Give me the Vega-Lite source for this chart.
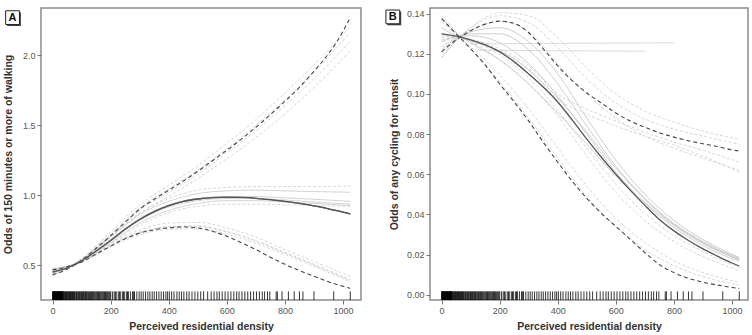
{
  "$schema": "https://vega.github.io/schema/vega-lite/v6.json",
  "padding": {"left": 2, "right": 0, "top": 7, "bottom": 0},
  "spacing": 21,
  "config": {
    "font": "Liberation Sans, Arial, sans-serif",
    "view": {"stroke": "#8c8c8c", "strokeWidth": 1.5},
    "axis": {"grid": false, "domain": false, "tickSize": 4, "tickColor": "#777", "tickWidth": 1, "labelFont": "Liberation Sans", "labelFontSize": 9, "labelColor": "#555", "labelPadding": 2, "titleFont": "Liberation Sans", "titleFontSize": 10.5, "titleFontWeight": "bold", "titleColor": "#333"},
    "axisX": {"titlePadding": 6}
  },
  "datasets": {
    "Amain": [
      {"x": 0, "est": 0.45, "hi": 0.43, "lo": 0.465},
      {"x": 50, "est": 0.48, "hi": 0.47, "lo": 0.488},
      {"x": 100, "est": 0.53, "hi": 0.535, "lo": 0.522},
      {"x": 150, "est": 0.6, "hi": 0.62, "lo": 0.578},
      {"x": 200, "est": 0.675, "hi": 0.71, "lo": 0.635},
      {"x": 250, "est": 0.755, "hi": 0.805, "lo": 0.688},
      {"x": 300, "est": 0.825, "hi": 0.9, "lo": 0.728},
      {"x": 350, "est": 0.882, "hi": 0.97, "lo": 0.752},
      {"x": 400, "est": 0.924, "hi": 1.035, "lo": 0.766},
      {"x": 450, "est": 0.955, "hi": 1.1, "lo": 0.772},
      {"x": 500, "est": 0.972, "hi": 1.17, "lo": 0.765},
      {"x": 550, "est": 0.982, "hi": 1.245, "lo": 0.742},
      {"x": 600, "est": 0.985, "hi": 1.32, "lo": 0.705},
      {"x": 650, "est": 0.983, "hi": 1.4, "lo": 0.66},
      {"x": 700, "est": 0.977, "hi": 1.485, "lo": 0.61},
      {"x": 750, "est": 0.967, "hi": 1.575, "lo": 0.555},
      {"x": 800, "est": 0.955, "hi": 1.67, "lo": 0.505},
      {"x": 850, "est": 0.94, "hi": 1.77, "lo": 0.46},
      {"x": 900, "est": 0.922, "hi": 1.885, "lo": 0.42},
      {"x": 950, "est": 0.902, "hi": 2.01, "lo": 0.38},
      {"x": 1000, "est": 0.878, "hi": 2.17, "lo": 0.348},
      {"x": 1025, "est": 0.866, "hi": 2.27, "lo": 0.333}
    ],
    "Agray": [
      {"x": 0, "e1": 0.44, "e2": 0.47, "e3": 0.45, "e4": 0.46, "h1": 0.43, "h2": 0.44, "h3": 0.42, "h4": 0.44, "l1": 0.47, "l2": 0.475, "l3": 0.46, "l4": 0.47, "d1": 0.44, "d2": 0.465},
      {"x": 100, "e1": 0.535, "e2": 0.525, "e3": 0.53, "e4": 0.53, "h1": 0.545, "h2": 0.54, "h3": 0.545, "h4": 0.54, "l1": 0.525, "l2": 0.52, "l3": 0.52, "l4": 0.525, "d1": 0.535, "d2": 0.525},
      {"x": 200, "e1": 0.7, "e2": 0.66, "e3": 0.685, "e4": 0.675, "h1": 0.74, "h2": 0.7, "h3": 0.725, "h4": 0.715, "l1": 0.655, "l2": 0.63, "l3": 0.645, "l4": 0.64, "d1": 0.705, "d2": 0.655},
      {"x": 300, "e1": 0.86, "e2": 0.8, "e3": 0.835, "e4": 0.82, "h1": 0.93, "h2": 0.87, "h3": 0.91, "h4": 0.895, "l1": 0.75, "l2": 0.715, "l3": 0.735, "l4": 0.73, "d1": 0.87, "d2": 0.785},
      {"x": 400, "e1": 0.955, "e2": 0.89, "e3": 0.93, "e4": 0.915, "h1": 1.07, "h2": 0.99, "h3": 1.045, "h4": 1.02, "l1": 0.8, "l2": 0.755, "l3": 0.775, "l4": 0.77, "d1": 0.975, "d2": 0.875},
      {"x": 500, "e1": 1.01, "e2": 0.94, "e3": 0.975, "e4": 0.96, "h1": 1.21, "h2": 1.12, "h3": 1.18, "h4": 1.15, "l1": 0.805, "l2": 0.76, "l3": 0.78, "l4": 0.775, "d1": 1.035, "d2": 0.92},
      {"x": 600, "e1": 1.03, "e2": 0.96, "e3": 0.99, "e4": 0.975, "h1": 1.37, "h2": 1.26, "h3": 1.33, "h4": 1.3, "l1": 0.765, "l2": 0.72, "l3": 0.74, "l4": 0.735, "d1": 1.055, "d2": 0.935},
      {"x": 700, "e1": 1.035, "e2": 0.96, "e3": 0.99, "e4": 0.975, "h1": 1.54, "h2": 1.41, "h3": 1.5, "h4": 1.46, "l1": 0.7, "l2": 0.655, "l3": 0.675, "l4": 0.67, "d1": 1.06, "d2": 0.935},
      {"x": 800, "e1": 1.03, "e2": 0.95, "e3": 0.98, "e4": 0.965, "h1": 1.73, "h2": 1.58, "h3": 1.68, "h4": 1.64, "l1": 0.61, "l2": 0.575, "l3": 0.59, "l4": 0.585, "d1": 1.06, "d2": 0.93},
      {"x": 900, "e1": 1.025, "e2": 0.94, "e3": 0.97, "e4": 0.95, "h1": 1.93, "h2": 1.77, "h3": 1.88, "h4": 1.83, "l1": 0.525, "l2": 0.49, "l3": 0.505, "l4": 0.5, "d1": 1.06, "d2": 0.925},
      {"x": 1025, "e1": 1.02, "e2": 0.925, "e3": 0.955, "e4": 0.935, "h1": 2.2, "h2": 2.03, "h3": 2.16, "h4": 2.1, "l1": 0.42, "l2": 0.38, "l3": 0.395, "l4": 0.39, "d1": 1.065, "d2": 0.92}
    ],
    "Bmain": [
      {"x": 0, "est": 0.13, "hi": 0.121, "lo": 0.1375},
      {"x": 50, "est": 0.1288, "hi": 0.127, "lo": 0.13},
      {"x": 100, "est": 0.127, "hi": 0.1315, "lo": 0.1225},
      {"x": 150, "est": 0.1245, "hi": 0.1348, "lo": 0.1145},
      {"x": 200, "est": 0.121, "hi": 0.1363, "lo": 0.105},
      {"x": 250, "est": 0.116, "hi": 0.1352, "lo": 0.096},
      {"x": 300, "est": 0.11, "hi": 0.1305, "lo": 0.0865},
      {"x": 350, "est": 0.1035, "hi": 0.1225, "lo": 0.076},
      {"x": 400, "est": 0.096, "hi": 0.114, "lo": 0.066},
      {"x": 450, "est": 0.087, "hi": 0.1065, "lo": 0.0565},
      {"x": 500, "est": 0.0775, "hi": 0.1005, "lo": 0.048},
      {"x": 550, "est": 0.0685, "hi": 0.0955, "lo": 0.0405},
      {"x": 600, "est": 0.06, "hi": 0.0905, "lo": 0.034},
      {"x": 650, "est": 0.052, "hi": 0.0865, "lo": 0.0275},
      {"x": 700, "est": 0.0445, "hi": 0.0834, "lo": 0.021},
      {"x": 750, "est": 0.0375, "hi": 0.0807, "lo": 0.015},
      {"x": 800, "est": 0.0318, "hi": 0.0785, "lo": 0.011},
      {"x": 850, "est": 0.027, "hi": 0.0767, "lo": 0.0082},
      {"x": 900, "est": 0.0228, "hi": 0.0752, "lo": 0.0062},
      {"x": 950, "est": 0.0192, "hi": 0.0738, "lo": 0.0048},
      {"x": 1000, "est": 0.0158, "hi": 0.0722, "lo": 0.0036},
      {"x": 1025, "est": 0.0143, "hi": 0.0716, "lo": 0.0031}
    ],
    "Bgray": [
      {"x": 0, "e1": 0.122, "e2": 0.138, "e3": 0.126, "e4": 0.133, "e5": 0.118, "h1": 0.118, "h2": 0.12, "h3": 0.1235, "l1": 0.139, "l2": 0.136, "m1": 0.13, "m2": 0.129, "r1": 0.128, "r2": 0.127},
      {"x": 50, "e1": 0.1275, "e2": 0.1305, "e3": 0.1285, "e4": 0.129, "e5": 0.1265, "h1": 0.1265, "h2": 0.127, "h3": 0.128, "l1": 0.131, "l2": 0.1295, "m1": 0.1285, "m2": 0.128, "r1": 0.128, "r2": 0.1275},
      {"x": 100, "e1": 0.13, "e2": 0.1255, "e3": 0.129, "e4": 0.1265, "e5": 0.131, "h1": 0.133, "h2": 0.133, "h3": 0.132, "l1": 0.1225, "l2": 0.1235, "m1": 0.126, "m2": 0.1265, "r1": 0.127, "r2": 0.127},
      {"x": 200, "e1": 0.13, "e2": 0.117, "e3": 0.1255, "e4": 0.1215, "e5": 0.133, "h1": 0.1405, "h2": 0.139, "h3": 0.136, "l1": 0.106, "l2": 0.1095, "m1": 0.117, "m2": 0.1195, "r1": 0.1215, "r2": 0.1225},
      {"x": 300, "e1": 0.122, "e2": 0.105, "e3": 0.115, "e4": 0.112, "e5": 0.126, "h1": 0.139, "h2": 0.1355, "h3": 0.131, "l1": 0.088, "l2": 0.0925, "m1": 0.105, "m2": 0.108, "r1": 0.1125, "r2": 0.114},
      {"x": 400, "e1": 0.105, "e2": 0.0905, "e3": 0.099, "e4": 0.098, "e5": 0.11, "h1": 0.128, "h2": 0.123, "h3": 0.115, "l1": 0.068, "l2": 0.073, "m1": 0.089, "m2": 0.092, "r1": 0.0975, "r2": 0.1},
      {"x": 500, "e1": 0.084, "e2": 0.075, "e3": 0.08, "e4": 0.081, "e5": 0.088, "h1": 0.113, "h2": 0.1075, "h3": 0.1, "l1": 0.049, "l2": 0.054, "m1": 0.069, "m2": 0.073, "r1": 0.09, "r2": 0.0925},
      {"x": 600, "e1": 0.064, "e2": 0.059, "e3": 0.061, "e4": 0.063, "e5": 0.067, "h1": 0.1, "h2": 0.0955, "h3": 0.088, "l1": 0.034, "l2": 0.038, "m1": 0.051, "m2": 0.055, "r1": 0.084, "r2": 0.0865},
      {"x": 700, "e1": 0.048, "e2": 0.046, "e3": 0.0455, "e4": 0.0475, "e5": 0.05, "h1": 0.0915, "h2": 0.0875, "h3": 0.079, "l1": 0.0225, "l2": 0.026, "m1": 0.037, "m2": 0.0405, "r1": 0.079, "r2": 0.081},
      {"x": 800, "e1": 0.0355, "e2": 0.0345, "e3": 0.0335, "e4": 0.035, "e5": 0.037, "h1": 0.086, "h2": 0.0825, "h3": 0.073, "l1": 0.0145, "l2": 0.017, "m1": 0.0265, "m2": 0.0295, "r1": 0.0745, "r2": 0.076},
      {"x": 900, "e1": 0.0265, "e2": 0.0255, "e3": 0.0245, "e4": 0.026, "e5": 0.0275, "h1": 0.0815, "h2": 0.079, "h3": 0.068, "l1": 0.009, "l2": 0.011, "m1": 0.019, "m2": 0.0215, "r1": 0.069, "r2": 0.072},
      {"x": 1025, "e1": 0.018, "e2": 0.0175, "e3": 0.0165, "e4": 0.0172, "e5": 0.0185, "h1": 0.0775, "h2": 0.075, "h3": 0.062, "l1": 0.0048, "l2": 0.0062, "m1": 0.012, "m2": 0.0135, "r1": 0.061, "r2": 0.066}
    ],
    "Bflat": [
      {"x": 100, "y": 0.125, "s": "f1"},
      {"x": 800, "y": 0.1255, "s": "f1"},
      {"x": 120, "y": 0.1218, "s": "f2"},
      {"x": 700, "y": 0.1213, "s": "f2"}
    ],
    "rug": [
      {"x": 0}, {"x": 1}, {"x": 2}, {"x": 3}, {"x": 4}, {"x": 5}, {"x": 6}, {"x": 7}, {"x": 8}, {"x": 9},
      {"x": 10}, {"x": 11}, {"x": 12}, {"x": 13}, {"x": 14}, {"x": 15}, {"x": 16}, {"x": 17}, {"x": 18}, {"x": 19},
      {"x": 20}, {"x": 21}, {"x": 22}, {"x": 23}, {"x": 24}, {"x": 25}, {"x": 26}, {"x": 27}, {"x": 28}, {"x": 29},
      {"x": 30}, {"x": 31}, {"x": 32}, {"x": 33}, {"x": 34}, {"x": 35}, {"x": 36}, {"x": 38}, {"x": 40}, {"x": 42},
      {"x": 44}, {"x": 46}, {"x": 48}, {"x": 50}, {"x": 52}, {"x": 54}, {"x": 56}, {"x": 58}, {"x": 60}, {"x": 62},
      {"x": 64}, {"x": 66}, {"x": 68}, {"x": 70}, {"x": 72}, {"x": 75}, {"x": 77}, {"x": 80}, {"x": 82}, {"x": 85},
      {"x": 88}, {"x": 90}, {"x": 93}, {"x": 95}, {"x": 98}, {"x": 100}, {"x": 103}, {"x": 106}, {"x": 108}, {"x": 111},
      {"x": 113}, {"x": 116}, {"x": 118}, {"x": 121}, {"x": 124}, {"x": 127}, {"x": 130}, {"x": 133}, {"x": 135}, {"x": 138},
      {"x": 140}, {"x": 143}, {"x": 146}, {"x": 149}, {"x": 152}, {"x": 155}, {"x": 158}, {"x": 161}, {"x": 164}, {"x": 167},
      {"x": 170}, {"x": 173}, {"x": 176}, {"x": 179}, {"x": 182}, {"x": 185}, {"x": 188}, {"x": 191}, {"x": 194}, {"x": 197},
      {"x": 200}, {"x": 206}, {"x": 212}, {"x": 216}, {"x": 219}, {"x": 226}, {"x": 230}, {"x": 233},
      {"x": 240}, {"x": 244}, {"x": 247}, {"x": 254}, {"x": 258}, {"x": 261}, {"x": 268}, {"x": 275}, {"x": 279}, {"x": 282}, {"x": 290}, {"x": 298}, {"x": 305},
      {"x": 312}, {"x": 320}, {"x": 328}, {"x": 335}, {"x": 343}, {"x": 350}, {"x": 358}, {"x": 366}, {"x": 374}, {"x": 382},
      {"x": 390}, {"x": 396}, {"x": 402}, {"x": 410}, {"x": 418}, {"x": 428}, {"x": 436}, {"x": 444}, {"x": 452}, {"x": 462},
      {"x": 470}, {"x": 480}, {"x": 490}, {"x": 500}, {"x": 510}, {"x": 520}, {"x": 534}, {"x": 546}, {"x": 556}, {"x": 566},
      {"x": 574}, {"x": 584}, {"x": 594}, {"x": 604}, {"x": 614}, {"x": 624}, {"x": 634}, {"x": 642}, {"x": 652}, {"x": 662},
      {"x": 672}, {"x": 682}, {"x": 692}, {"x": 702}, {"x": 712}, {"x": 722}, {"x": 730}, {"x": 740}, {"x": 748}, {"x": 770},
      {"x": 774}, {"x": 790}, {"x": 812}, {"x": 832}, {"x": 850}, {"x": 862}, {"x": 900}, {"x": 968}, {"x": 1025}
    ]
  },
  "hconcat": [
    {
      "width": 320,
      "height": 292,
      "layer": [
        {"data": {"name": "Amain"}, "transform": [{"fold": ["est"], "as": ["s", "y"]}],
         "mark": {"type": "line", "color": "#555", "strokeWidth": 1.3, "interpolate": "monotone"},
         "encoding": {
           "x": {"field": "x", "type": "quantitative", "scale": {"domain": [-40, 1062], "nice": false, "zero": false},
                 "axis": {"values": [0, 200, 400, 600, 800, 1000], "format": "d", "title": "Perceived residential density"}},
           "y": {"field": "y", "type": "quantitative", "scale": {"domain": [0.25, 2.337], "nice": false, "zero": false},
                 "axis": {"values": [0.5, 1, 1.5, 2], "format": ".1f", "title": "Odds of 150 minutes or more of walking", "minExtent": 17, "maxExtent": 17, "titlePadding": 11}}
         }},
        {"data": {"name": "Agray"}, "transform": [{"fold": ["e1", "e2", "e3", "e4"], "as": ["s", "y"]}],
         "mark": {"type": "line", "color": "#c8c8c8", "strokeWidth": 0.8, "interpolate": "monotone"},
         "encoding": {"x": {"field": "x", "type": "quantitative"}, "y": {"field": "y", "type": "quantitative"}, "detail": {"field": "s"}}},
        {"data": {"name": "Agray"}, "transform": [{"fold": ["h1", "h2", "h3", "h4", "l1", "l2", "l3", "l4", "d1", "d2"], "as": ["s", "y"]}],
         "mark": {"type": "line", "color": "#cccccc", "strokeWidth": 0.8, "strokeDash": [3, 2], "interpolate": "monotone"},
         "encoding": {"x": {"field": "x", "type": "quantitative"}, "y": {"field": "y", "type": "quantitative"}, "detail": {"field": "s"}}},
        {"data": {"name": "Amain"}, "transform": [{"fold": ["hi", "lo"], "as": ["s", "y"]}],
         "mark": {"type": "line", "color": "#444", "strokeWidth": 1.1, "strokeDash": [4, 3], "interpolate": "monotone"},
         "encoding": {"x": {"field": "x", "type": "quantitative"}, "y": {"field": "y", "type": "quantitative"}, "detail": {"field": "s"}}},
        {"data": {"name": "Amain"}, "transform": [{"fold": ["est"], "as": ["s", "y"]}],
         "mark": {"type": "line", "color": "#555", "strokeWidth": 1.3, "interpolate": "monotone"},
         "encoding": {"x": {"field": "x", "type": "quantitative"}, "y": {"field": "y", "type": "quantitative"}}},
        {"data": {"name": "rug"},
         "mark": {"type": "rule", "color": "#000", "strokeWidth": 0.8},
         "encoding": {"x": {"field": "x", "type": "quantitative"}, "y": {"datum": 0.25, "type": "quantitative"}, "y2": {"datum": 0.3115}}},
        {"data": {"values": [{"label": "A"}]},
         "mark": {"type": "point", "shape": "square", "size": 190, "filled": true, "color": "#444", "opacity": 1, "xOffset": 1.5, "yOffset": 1.5},
         "encoding": {"x": {"datum": -138, "type": "quantitative"}, "y": {"datum": 2.268, "type": "quantitative"}}},
        {"data": {"values": [{"label": "A"}]},
         "mark": {"type": "point", "shape": "square", "size": 190, "filled": true, "fill": "#fff", "stroke": "#222", "strokeWidth": 1, "opacity": 1},
         "encoding": {"x": {"datum": -138, "type": "quantitative"}, "y": {"datum": 2.268, "type": "quantitative"}}},
        {"data": {"values": [{"label": "A"}]},
         "mark": {"type": "text", "fontWeight": "bold", "fontSize": 11, "color": "#111", "baseline": "middle", "align": "center"},
         "encoding": {"x": {"datum": -138, "type": "quantitative"}, "y": {"datum": 2.268, "type": "quantitative"}, "text": {"field": "label"}}}
      ]
    },
    {
      "width": 318,
      "height": 292,
      "layer": [
        {"data": {"name": "Bflat"},
         "mark": {"type": "line", "color": "#d2d2d2", "strokeWidth": 0.8},
         "encoding": {
           "x": {"field": "x", "type": "quantitative", "scale": {"domain": [-40, 1055], "nice": false, "zero": false},
                 "axis": {"values": [0, 200, 400, 600, 800, 1000], "format": "d", "title": "Perceived residential density"}},
           "y": {"field": "y", "type": "quantitative", "scale": {"domain": [-0.00264, 0.14284], "nice": false, "zero": false},
                 "axis": {"values": [0, 0.02, 0.04, 0.06, 0.08, 0.1, 0.12, 0.14], "format": ".2f", "title": "Odds of any cycling for transit", "minExtent": 23, "maxExtent": 23, "titlePadding": 8}},
           "detail": {"field": "s"}}},
        {"data": {"name": "Bgray"}, "transform": [{"fold": ["e1", "e2", "e3", "e4", "e5"], "as": ["s", "y"]}],
         "mark": {"type": "line", "color": "#c2c2c2", "strokeWidth": 0.8, "interpolate": "monotone"},
         "encoding": {"x": {"field": "x", "type": "quantitative"}, "y": {"field": "y", "type": "quantitative"}, "detail": {"field": "s"}}},
        {"data": {"name": "Bgray"}, "transform": [{"fold": ["h1", "h2", "h3", "l1", "l2", "m1", "m2", "r1", "r2"], "as": ["s", "y"]}],
         "mark": {"type": "line", "color": "#cccccc", "strokeWidth": 0.8, "strokeDash": [3, 2], "interpolate": "monotone"},
         "encoding": {"x": {"field": "x", "type": "quantitative"}, "y": {"field": "y", "type": "quantitative"}, "detail": {"field": "s"}}},
        {"data": {"name": "Bmain"}, "transform": [{"fold": ["hi", "lo"], "as": ["s", "y"]}],
         "mark": {"type": "line", "color": "#444", "strokeWidth": 1.1, "strokeDash": [4, 3], "interpolate": "monotone"},
         "encoding": {"x": {"field": "x", "type": "quantitative"}, "y": {"field": "y", "type": "quantitative"}, "detail": {"field": "s"}}},
        {"data": {"name": "Bmain"}, "transform": [{"fold": ["est"], "as": ["s", "y"]}],
         "mark": {"type": "line", "color": "#555", "strokeWidth": 1.3, "interpolate": "monotone"},
         "encoding": {"x": {"field": "x", "type": "quantitative"}, "y": {"field": "y", "type": "quantitative"}}},
        {"data": {"name": "rug"},
         "mark": {"type": "rule", "color": "#000", "strokeWidth": 0.8},
         "encoding": {"x": {"field": "x", "type": "quantitative"}, "y": {"datum": -0.00264, "type": "quantitative"}, "y2": {"datum": 0.00165}}},
        {"data": {"values": [{"label": "B"}]},
         "mark": {"type": "point", "shape": "square", "size": 190, "filled": true, "color": "#444", "opacity": 1, "xOffset": 1.5, "yOffset": 1.5},
         "encoding": {"x": {"datum": -168, "type": "quantitative"}, "y": {"datum": 0.1384, "type": "quantitative"}}},
        {"data": {"values": [{"label": "B"}]},
         "mark": {"type": "point", "shape": "square", "size": 190, "filled": true, "fill": "#fff", "stroke": "#222", "strokeWidth": 1, "opacity": 1},
         "encoding": {"x": {"datum": -168, "type": "quantitative"}, "y": {"datum": 0.1384, "type": "quantitative"}}},
        {"data": {"values": [{"label": "B"}]},
         "mark": {"type": "text", "fontWeight": "bold", "fontSize": 11, "color": "#111", "baseline": "middle", "align": "center"},
         "encoding": {"x": {"datum": -168, "type": "quantitative"}, "y": {"datum": 0.1384, "type": "quantitative"}, "text": {"field": "label"}}}
      ]
    }
  ]
}
